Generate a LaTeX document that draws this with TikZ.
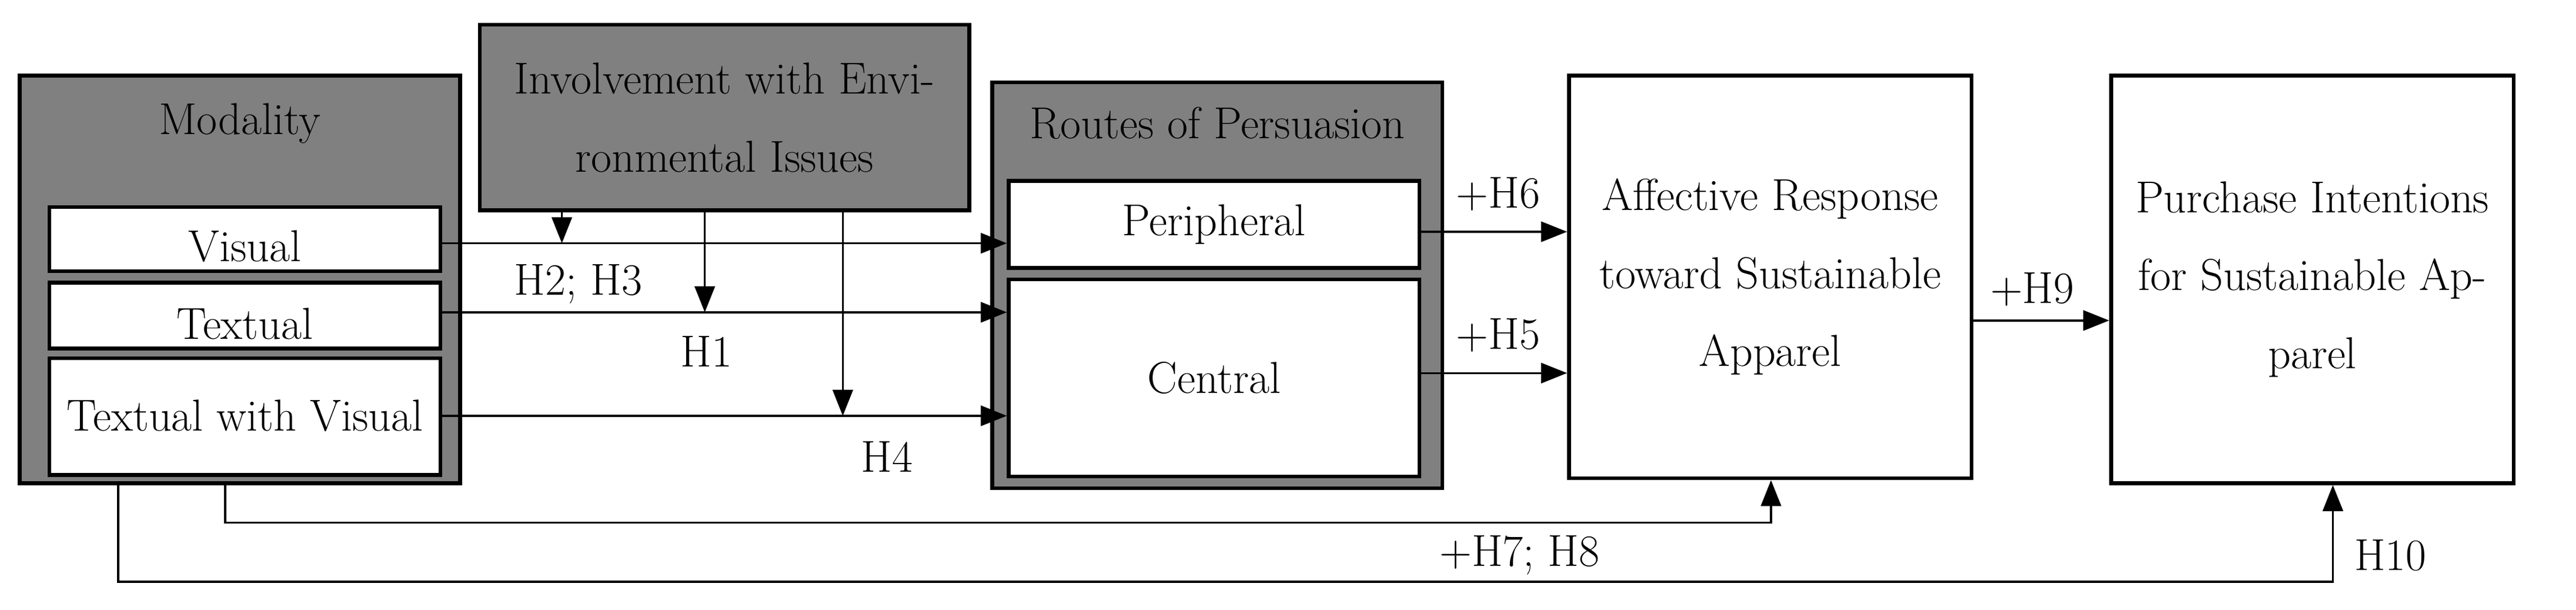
\documentclass[tikz,border=0pt]{standalone}
\usetikzlibrary{arrows.meta,calc}
\begin{document}
\begin{tikzpicture}[x=0.02cm,y=-0.02cm,
  every node/.style={font=\fontsize{15.5}{27}\selectfont,inner sep=0pt},
  gbox/.style={draw,line width=1.3pt,fill=black!50,rectangle},
  wbox/.style={draw,line width=1.3pt,fill=white,rectangle},
  arr/.style={-{Triangle[length=9pt,width=7pt]},line width=0.7pt},
  ln/.style={line width=0.7pt}]
\useasboundingbox (0,0) rectangle (1568,371);
% boxes
\node[gbox,minimum width=268*0.02cm,minimum height=248*0.02cm] (mod) at (146,170) {};
\node (modt) at (146,75) {Modality};
\node[wbox,minimum width=238*0.02cm,minimum height=39*0.02cm] (vis) at (149,145.5) {};
\node (vist) at (149,150) {Visual};
\node[wbox,minimum width=238*0.02cm,minimum height=40*0.02cm] (tex) at (149,192) {};
\node (text) at (149,197) {Textual};
\node[wbox,minimum width=238*0.02cm,minimum height=71*0.02cm] (twv) at (149,253.5) {};
\node (twvt) at (149,253) {Textual with Visual};
\node[gbox,minimum width=298*0.02cm,minimum height=113*0.02cm,align=center] (inv) at (441,71.5) {Involvement with Envi-\\ronmental Issues};
\node[gbox,minimum width=274*0.02cm,minimum height=247*0.02cm] (rou) at (741,173.5) {};
\node (rout) at (741,75) {Routes of Persuasion};
\node[wbox,minimum width=250*0.02cm,minimum height=53*0.02cm] (per) at (739,136.5) {Peripheral};
\node[wbox,minimum width=250*0.02cm,minimum height=120*0.02cm] (cen) at (739,230) {Central};
\node[draw,line width=1.3pt,fill=white,minimum width=245*0.02cm,minimum height=245*0.02cm,align=center] (aff) at (1077.5,168.5) {Affective Response\\toward Sustainable\\Apparel};
\node[draw,line width=1.3pt,fill=white,minimum width=245*0.02cm,minimum height=248*0.02cm,align=center] (pur) at (1407.5,170) {Purchase Intentions\\for Sustainable Ap-\\parel};
% horizontal arrows
\draw[arr] (vis.east |- 0,148) -- (per.west |- 0,148);
\draw[arr] (tex.east |- 0,190) -- (cen.west |- 0,190);
\draw[arr] (twv.east |- 0,253) -- (cen.west |- 0,253);
% moderators
\coordinate (m1) at (342,148);
\coordinate (m2) at (429,190);
\coordinate (m3) at (513,253);
\draw[arr] (inv.south -| m1) -- (m1);
\draw[arr] (inv.south -| m2) -- (m2);
\draw[arr] (inv.south -| m3) -- (m3);
\node (h23) at (352,173) {H2; H3};
\node (h1) at (430,214) {H1};
\node (h4) at (540,278) {H4};
% routes to affective
\draw[arr] (per.east |- 0,141) -- (aff.west |- 0,141);
\draw[arr] (cen.east |- 0,227) -- (aff.west |- 0,227);
\node (h6) at (912,118) {+H6};
\node (h5) at (912,204) {+H5};
\draw[arr] (aff.east |- 0,195) -- (pur.west |- 0,195);
\node (h9) at (1237,176) {+H9};
% bottom paths
\coordinate (b1) at (137,318);
\coordinate (b2) at (1078,318);
\draw[arr] (mod.south -| b1) -- (b1) -- (b2) -- (aff.south -| b2);
\coordinate (c1) at (72,354);
\coordinate (c2) at (1420,354);
\draw[arr] (mod.south -| c1) -- (c1) -- (c2) -- (pur.south -| c2);
\node (h78) at (925,338) {+H7; H8};
\node (h10) at (1455,338) {H10};
\end{tikzpicture}
\end{document}
